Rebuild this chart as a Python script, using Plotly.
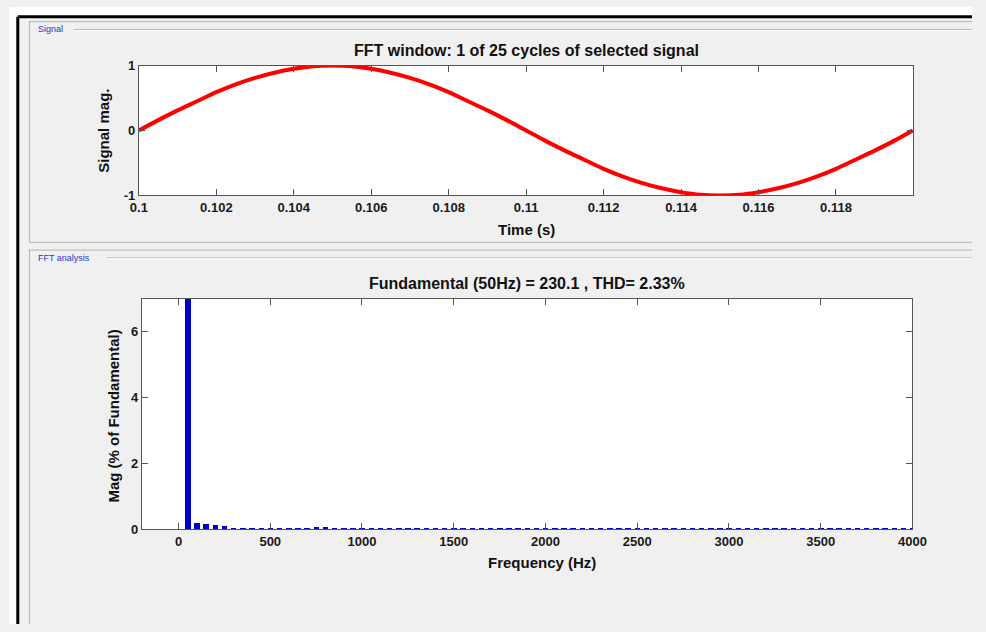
import plotly.graph_objects as go

W, H = 986, 632

# ---- data ----
time_s = [0.1 + k * 0.0005 for k in range(40)] + [0.11998]
signal_mag = [0.00, 0.16, 0.31, 0.45, 0.59, 0.71, 0.81, 0.89, 0.95, 0.99,
              1.00, 0.99, 0.95, 0.89, 0.81, 0.71, 0.59, 0.45, 0.31, 0.16,
              0.00, -0.16, -0.31, -0.45, -0.59, -0.71, -0.81, -0.89, -0.95, -0.99,
              -1.00, -0.99, -0.95, -0.89, -0.81, -0.71, -0.59, -0.45, -0.31, -0.16,
              0.00]

freq_hz = [50 * k for k in range(1, 81)]
mag_pct = [100.0, 0.18, 0.15, 0.13, 0.10, 0.05, 0.02, 0.03, 0.04, 0.04,   # 50..500
           0.03, 0.03, 0.02, 0.04, 0.07, 0.06, 0.05, 0.03, 0.02, 0.02,     # 550..1000
           0.02, 0.02, 0.02, 0.02, 0.02, 0.02, 0.02, 0.02, 0.02, 0.02,     # 1050..1500
           0.02, 0.02, 0.02, 0.02, 0.02, 0.02, 0.05, 0.05, 0.05, 0.03,     # 1550..2000
           0.02, 0.02, 0.02, 0.02, 0.02, 0.02, 0.02, 0.02, 0.02, 0.02,     # 2050..2500
           0.02, 0.02, 0.02, 0.02, 0.02, 0.02, 0.02, 0.02, 0.02, 0.02,     # 2550..3000
           0.03, 0.03, 0.03, 0.02, 0.02, 0.02, 0.02, 0.02, 0.02, 0.02,     # 3050..3500
           0.02, 0.02, 0.02, 0.02, 0.02, 0.02, 0.02, 0.02, 0.02, 0.02]     # 3550..4000

time_ticks = [0.1, 0.102, 0.104, 0.106, 0.108, 0.11, 0.112, 0.114, 0.116, 0.118]
time_ticklabels = ["0.1", "0.102", "0.104", "0.106", "0.108", "0.11", "0.112", "0.114", "0.116", "0.118"]
sig_ticks = [-1, 0, 1]
sig_ticklabels = ["-1", "0", "1"]
freq_ticks = [0, 500, 1000, 1500, 2000, 2500, 3000, 3500, 4000]
mag_ticks = [0, 2, 4, 6]

title1 = "FFT window: 1 of 25 cycles of selected signal"
title2 = "Fundamental (50Hz) = 230.1 , THD= 2.33%"

# ---- helpers ----
def px_x(x):
    return x / W

def px_y(y):
    return 1 - y / H

FONT = "Liberation Sans, Arial, sans-serif"
tickfont = dict(family=FONT, size=13, color="#1a1a1a", weight="bold")

fig = go.Figure()
fig.add_trace(go.Scatter(x=time_s, y=signal_mag, mode="lines",
                         line=dict(color="#ff0000", width=4, shape="spline"),
                         xaxis="x", yaxis="y", showlegend=False))
fig.add_trace(go.Bar(x=freq_hz, y=mag_pct, width=30, marker=dict(color="#0000c8", line=dict(width=0)),
                     xaxis="x2", yaxis="y2", showlegend=False))

axis_common = dict(showline=True, linecolor="#555555", linewidth=1, mirror="ticks",
                   ticks="inside", ticklen=6, tickcolor="#555555", showgrid=False,
                   zeroline=False, tickfont=tickfont)

fig.update_layout(
    width=W, height=H,
    margin=dict(l=0, r=0, t=0, b=0),
    paper_bgcolor="#f0f0f0",
    plot_bgcolor="#ffffff",
    bargap=0,
    xaxis=dict(domain=[px_x(133), px_x(926)], range=[0.1, 0.12], tickvals=time_ticks,
               ticktext=time_ticklabels, anchor="y", **axis_common),
    yaxis=dict(domain=[px_y(193), px_y(60)], range=[-1, 1], tickvals=sig_ticks,
               ticktext=sig_ticklabels, anchor="x", **axis_common),
    xaxis2=dict(domain=[px_x(136), px_x(925)], range=[-200, 4000], tickvals=freq_ticks,
                anchor="y2", **axis_common),
    yaxis2=dict(domain=[px_y(535), px_y(299)], range=[0, 7], tickvals=mag_ticks,
                anchor="x2", **axis_common),
)

shapes = []
# white area outside the black window frame
shapes.append(dict(type="rect", xref="paper", yref="paper", x0=0, x1=1, y0=px_y(10), y1=1,
                   fillcolor="#ffffff", line=dict(width=0), layer="below"))
shapes.append(dict(type="rect", xref="paper", yref="paper", x0=0, x1=px_x(9), y0=0, y1=1,
                   fillcolor="#ffffff", line=dict(width=0), layer="below"))
# black frame
shapes.append(dict(type="line", xref="paper", yref="paper", x0=px_x(9), x1=1, y0=px_y(10), y1=px_y(10),
                   line=dict(color="#000000", width=3)))
shapes.append(dict(type="line", xref="paper", yref="paper", x0=px_x(9), x1=px_x(9), y0=0, y1=px_y(10),
                   line=dict(color="#000000", width=3)))

GB = "#b4b4b4"
def hline(x0, x1, y, color=GB):
    shapes.append(dict(type="line", xref="paper", yref="paper", x0=px_x(x0), x1=px_x(x1),
                       y0=px_y(y), y1=px_y(y), line=dict(color=color, width=1)))
def vline(x, y0, y1, color=GB):
    shapes.append(dict(type="line", xref="paper", yref="paper", x0=px_x(x), x1=px_x(x),
                       y0=px_y(y0), y1=px_y(y1), line=dict(color=color, width=1)))

# Signal panel
hline(20, 986, 15)
vline(21, 15, 241)
hline(21, 986, 241)
hline(66, 986, 23)
hline(66, 986, 24, "#ffffff")
# FFT analysis panel
hline(20, 986, 249)
vline(21, 249, 632)
hline(100, 986, 257)
hline(100, 986, 258, "#ffffff")

fig.update_layout(shapes=shapes)

ann = []
labfont = dict(family=FONT, size=9, color="#3333cc")
ann.append(dict(text="Signal", x=px_x(28), y=px_y(23), xref="paper", yref="paper",
                xanchor="left", yanchor="middle", showarrow=False, font=labfont))
ann.append(dict(text="FFT analysis", x=px_x(28), y=px_y(257), xref="paper", yref="paper",
                xanchor="left", yanchor="middle", showarrow=False, font=labfont))

tfont = dict(family=FONT, size=16, color="#111111", weight="bold")
ann.append(dict(text=title1, x=px_x(530), y=px_y(45), xref="paper", yref="paper",
                xanchor="center", yanchor="middle", showarrow=False, font=tfont))
ann.append(dict(text=title2, x=px_x(530), y=px_y(283), xref="paper", yref="paper",
                xanchor="center", yanchor="middle", showarrow=False, font=tfont))

lfont = dict(family=FONT, size=15, color="#111111", weight="bold")
ann.append(dict(text="Time (s)", x=px_x(530), y=px_y(228), xref="paper", yref="paper",
                xanchor="center", yanchor="middle", showarrow=False, font=lfont))
ann.append(dict(text="Frequency (Hz)", x=px_x(546), y=px_y(569), xref="paper", yref="paper",
                xanchor="center", yanchor="middle", showarrow=False, font=lfont))
ann.append(dict(text="Signal mag.", x=px_x(97), y=px_y(127), xref="paper", yref="paper",
                xanchor="center", yanchor="middle", showarrow=False, font=lfont, textangle=-90))
ann.append(dict(text="Mag (% of Fundamental)", x=px_x(107), y=px_y(419), xref="paper", yref="paper",
                xanchor="center", yanchor="middle", showarrow=False, font=lfont, textangle=-90))

fig.update_layout(annotations=ann)

fig.write_html(
    "out.html",
    config={"displayModeBar": False},
    post_script="document.body.style.margin='0';",
)
